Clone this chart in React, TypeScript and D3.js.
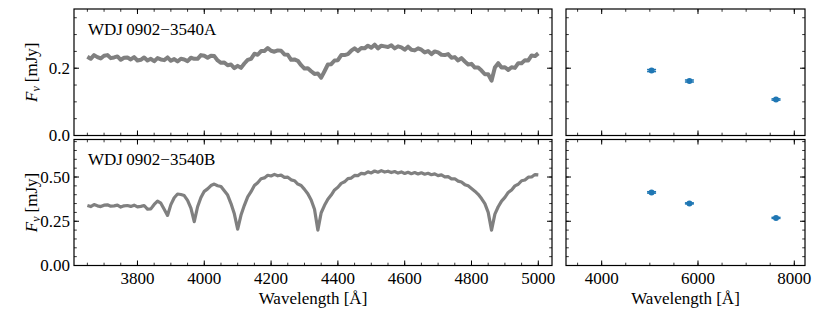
import * as d3 from "d3";

// wavelength grid of the two spectra (10 Å sampling)
const specWave = d3.range(3650, 5001, 10);

// WDJ0902-3540A, F_nu in mJy, 10 values per 100 Å starting at 3650
const fluxA = [
  0.234, 0.228, 0.239, 0.233, 0.229, 0.237, 0.239, 0.230, 0.232, 0.235,
  0.225, 0.231, 0.232, 0.226, 0.233, 0.223, 0.225, 0.232, 0.223, 0.228,
  0.221, 0.230, 0.226, 0.224, 0.232, 0.222, 0.227, 0.220, 0.228, 0.226,
  0.221, 0.231, 0.228, 0.228, 0.239, 0.237, 0.231, 0.237, 0.236, 0.223,
  0.216, 0.217, 0.209, 0.211, 0.200, 0.207, 0.201, 0.214, 0.225, 0.228,
  0.243, 0.240, 0.251, 0.251, 0.260, 0.252, 0.249, 0.253, 0.252, 0.241,
  0.240, 0.225, 0.226, 0.222, 0.209, 0.199, 0.200, 0.191, 0.183, 0.184,
  0.172, 0.191, 0.211, 0.212, 0.223, 0.224, 0.239, 0.239, 0.242, 0.252,
  0.259, 0.251, 0.260, 0.259, 0.267, 0.261, 0.270, 0.259, 0.267, 0.265,
  0.263, 0.268, 0.259, 0.265, 0.262, 0.255, 0.264, 0.255, 0.253, 0.259,
  0.255, 0.247, 0.251, 0.242, 0.250, 0.247, 0.240, 0.239, 0.242, 0.231,
  0.233, 0.223, 0.230, 0.220, 0.211, 0.213, 0.202, 0.202, 0.193, 0.182,
  0.182, 0.163, 0.202, 0.215, 0.202, 0.203, 0.195, 0.203, 0.201, 0.215,
  0.215, 0.224, 0.223, 0.238, 0.236, 0.244,
];

// WDJ0902-3540B
const fluxB = [
  0.339, 0.333, 0.344, 0.337, 0.333, 0.341, 0.343, 0.335, 0.337, 0.341,
  0.330, 0.337, 0.339, 0.334, 0.341, 0.331, 0.334, 0.339, 0.319, 0.320,
  0.345, 0.364, 0.352, 0.318, 0.283, 0.344, 0.383, 0.404, 0.401, 0.395,
  0.368, 0.324, 0.248, 0.332, 0.384, 0.419, 0.433, 0.452, 0.460, 0.451,
  0.446, 0.422, 0.398, 0.350, 0.292, 0.205, 0.285, 0.340, 0.388, 0.417,
  0.452, 0.468, 0.490, 0.495, 0.510, 0.506, 0.515, 0.507, 0.511, 0.498,
  0.499, 0.484, 0.479, 0.460, 0.452, 0.430, 0.405, 0.370, 0.318, 0.200,
  0.298, 0.340, 0.374, 0.398, 0.427, 0.442, 0.464, 0.473, 0.491, 0.494,
  0.509, 0.508, 0.521, 0.518, 0.529, 0.523, 0.534, 0.527, 0.536, 0.528,
  0.533, 0.525, 0.531, 0.522, 0.529, 0.520, 0.527, 0.519, 0.525, 0.517,
  0.524, 0.516, 0.521, 0.513, 0.518, 0.508, 0.512, 0.501, 0.502, 0.490,
  0.490, 0.477, 0.472, 0.457, 0.450, 0.435, 0.420, 0.402, 0.378, 0.350,
  0.300, 0.200, 0.290, 0.332, 0.364, 0.385, 0.413, 0.427, 0.450, 0.459,
  0.479, 0.483, 0.499, 0.500, 0.514, 0.512,
];

// Gaia BP, G, RP photometry
const photWave = [5036, 5822, 7620];
const photA = [0.193, 0.162, 0.107];
const photAErr = [0.003, 0.003, 0.002];
const photB = [0.413, 0.351, 0.269];
const photBErr = [0.004, 0.003, 0.003];

const names = ["WDJ\u20090902\u22123540A", "WDJ\u20090902\u22123540B"];

const specTicks = [3800, 4000, 4200, 4400, 4600, 4800, 5000];
const photTicks = [4000, 6000, 8000];
const yTicksA = [0, 0.2];
const yTicksB = [0, 0.25, 0.5];

const W = 830;
const H = 312;
const LX = [74, 552];
const RX = [566, 805];
const ROWS = [
  [9, 135.5],
  [139.5, 265.5],
];
const FONT = "'Liberation Serif', 'Times New Roman', serif";
const FS = 17;

type Scale = d3.ScaleLinear<number, number>;

function Frame({
  x,
  y,
  xMajor,
  xMinor,
  yMajor,
  yMinor,
  xLabels,
  yLabels,
  yFmt,
}: {
  x: Scale;
  y: Scale;
  xMajor: number[];
  xMinor: number[];
  yMajor: number[];
  yMinor: number[];
  xLabels: boolean;
  yLabels: boolean;
  yFmt: (v: number) => string;
}) {
  const [x0, x1] = x.range();
  const [y1, y0] = y.range();
  const maj = { len: 5, w: 1 };
  const min = { len: 2.8, w: 0.8 };
  return (
    <g>
      {[...xMajor.map((v) => [v, maj] as const), ...xMinor.map((v) => [v, min] as const)].map(
        ([v, t], i) => (
          <g key={`x${i}`} stroke="#000" strokeWidth={t.w}>
            <line x1={x(v)} x2={x(v)} y1={y1} y2={y1 - t.len} />
            <line x1={x(v)} x2={x(v)} y1={y0} y2={y0 + t.len} />
          </g>
        ),
      )}
      {[...yMajor.map((v) => [v, maj] as const), ...yMinor.map((v) => [v, min] as const)].map(
        ([v, t], i) => (
          <g key={`y${i}`} stroke="#000" strokeWidth={t.w}>
            <line x1={x0} x2={x0 + t.len} y1={y(v)} y2={y(v)} />
            <line x1={x1} x2={x1 - t.len} y1={y(v)} y2={y(v)} />
          </g>
        ),
      )}
      {xLabels &&
        xMajor.map((v) => (
          <text key={`xl${v}`} x={x(v)} y={y1 + 18} textAnchor="middle" fontSize={FS}>
            {v}
          </text>
        ))}
      {yLabels &&
        yMajor.map((v) => (
          <text key={`yl${v}`} x={x0 - 4} y={y(v)} dy="0.34em" textAnchor="end" fontSize={FS}>
            {yFmt(v)}
          </text>
        ))}
      <rect x={x0} y={y0} width={x1 - x0} height={y1 - y0} fill="none" stroke="#000" strokeWidth={1.2} />
    </g>
  );
}

export default function App() {
  const sx = d3.scaleLinear().domain([3610, 5041]).range(LX);
  const px = d3.scaleLinear().domain([3259, 8222]).range(RX);
  const ys = [
    d3.scaleLinear().domain([0, 0.376]).range([ROWS[0][1], ROWS[0][0]]),
    d3.scaleLinear().domain([0, 0.712]).range([ROWS[1][1], ROWS[1][0]]),
  ];
  const fluxes = [fluxA, fluxB];
  const widths = [4, 3.2];
  const phot = [photA, photB];
  const photErr = [photAErr, photBErr];
  const yMajor = [yTicksA, yTicksB];
  const yMinor = [d3.range(0.05, 0.376, 0.05), d3.range(0.05, 0.712, 0.05)];
  const yFmt = [d3.format(".1f"), d3.format(".2f")];
  const specMinor = d3.range(3650, 5041, 50);
  const photMinor = d3.range(3500, 8222, 500);

  return (
    <svg
      width={W}
      height={H}
      viewBox={`0 0 ${W} ${H}`}
      style={{ position: "absolute", left: 0, top: 0, background: "#fff" }}
      fontFamily={FONT}
    >
      {ys.map((y, r) => {
        const line = d3
          .line<number>()
          .x((_, i) => sx(specWave[i]))
          .y((d) => y(d));
        const mid = (ROWS[r][0] + ROWS[r][1]) / 2;
        return (
          <g key={r}>
            <path d={line(fluxes[r]) ?? ""} fill="none" stroke="#808080" strokeWidth={widths[r]} strokeLinejoin="round" />
            <text x={88} y={r === 0 ? 35 : 165} fontSize={FS}>
              {names[r]}
            </text>
            <text transform={`translate(37,${mid}) rotate(-90)`} textAnchor="middle" fontSize={FS}>
              <tspan fontStyle="italic">F</tspan>
              <tspan fontStyle="italic" fontSize={12} dy={3}>
                ν
              </tspan>
              <tspan dy={-3} dx={4}>
                [mJy]
              </tspan>
            </text>
            <Frame
              x={sx}
              y={y}
              xMajor={specTicks}
              xMinor={specMinor}
              yMajor={yMajor[r]}
              yMinor={yMinor[r]}
              xLabels={r === 1}
              yLabels
              yFmt={yFmt[r]}
            />
            {phot[r].map((v, i) => {
              const cx = px(photWave[i]);
              const lo = y(v - photErr[r][i]);
              const hi = y(v + photErr[r][i]);
              return (
                <g key={i} stroke="#1f77b4" fill="#1f77b4" strokeWidth={1.5}>
                  <line x1={cx} x2={cx} y1={lo} y2={hi} />
                  <line x1={cx - 4.5} x2={cx + 4.5} y1={lo} y2={lo} />
                  <line x1={cx - 4.5} x2={cx + 4.5} y1={hi} y2={hi} />
                  <circle cx={cx} cy={y(v)} r={3} stroke="none" />
                </g>
              );
            })}
            <Frame
              x={px}
              y={y}
              xMajor={photTicks}
              xMinor={photMinor}
              yMajor={yMajor[r]}
              yMinor={yMinor[r]}
              xLabels={r === 1}
              yLabels={false}
              yFmt={yFmt[r]}
            />
          </g>
        );
      })}
      <text x={(LX[0] + LX[1]) / 2} y={304} textAnchor="middle" fontSize={FS}>
        Wavelength [Å]
      </text>
      <text x={(RX[0] + RX[1]) / 2} y={304} textAnchor="middle" fontSize={FS}>
        Wavelength [Å]
      </text>
    </svg>
  );
}
